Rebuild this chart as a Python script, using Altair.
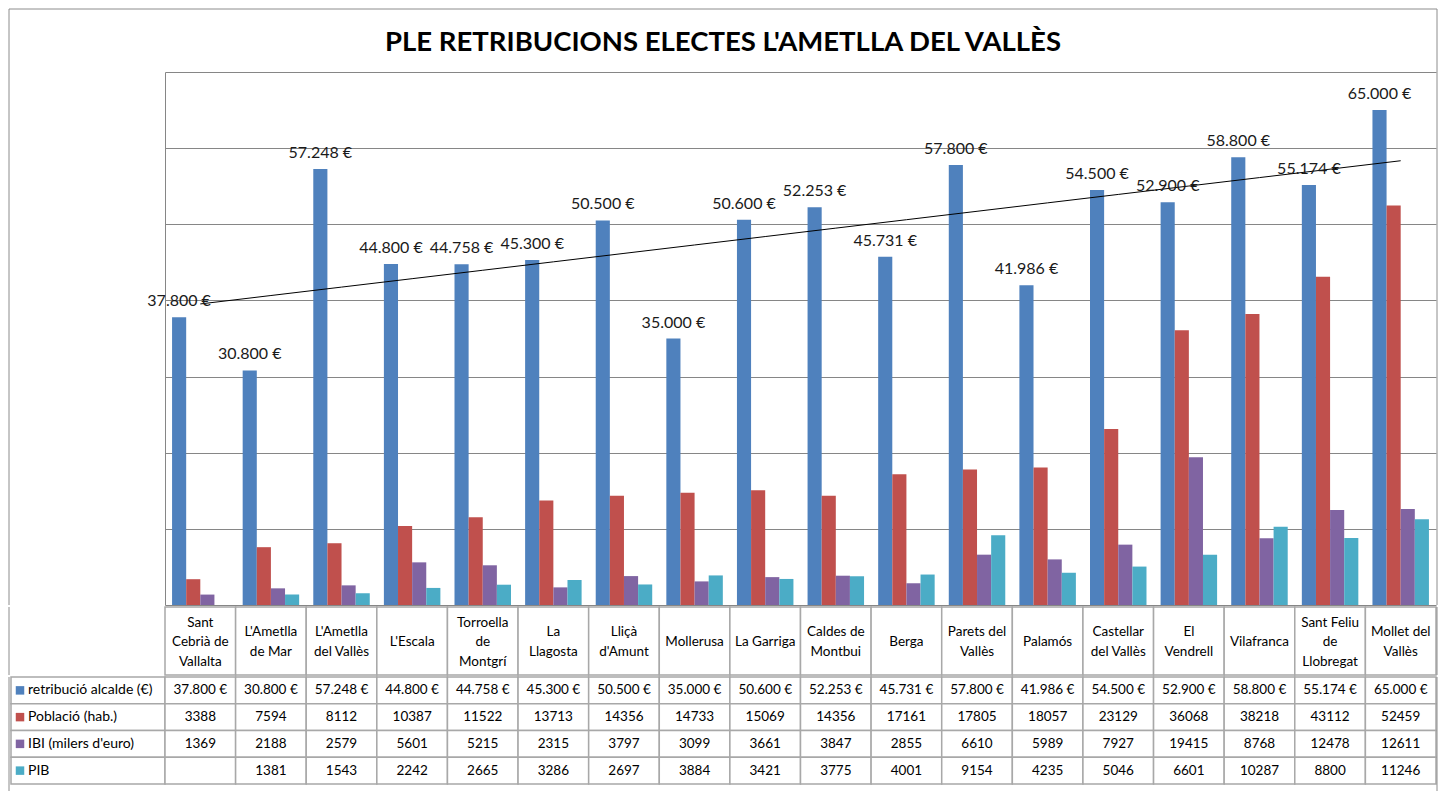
import altair as alt
import pandas as pd
import numpy as np

cities = ["Sant\nCebrià de\nVallalta", "L'Ametlla\nde Mar", "L'Ametlla\ndel Vallès", "L'Escala",
          "Torroella\nde\nMontgrí", "La\nLlagosta", "Lliçà\nd'Amunt", "Mollerusa", "La Garriga",
          "Caldes de\nMontbui", "Berga", "Parets del\nVallès", "Palamós", "Castellar\ndel Vallès",
          "El\nVendrell", "Vilafranca", "Sant Feliu\nde\nLlobregat", "Mollet del\nVallès"]
series_names = ["retribució alcalde (€)", "Població (hab.)", "IBI (milers d'euro)", "PIB"]
colors = ["#4F81BD", "#C0504D", "#8064A2", "#4BACC6"]
retribucio = [37800, 30800, 57248, 44800, 44758, 45300, 50500, 35000, 50600, 52253, 45731,
              57800, 41986, 54500, 52900, 58800, 55174, 65000]
poblacio = [3388, 7594, 8112, 10387, 11522, 13713, 14356, 14733, 15069, 14356, 17161,
            17805, 18057, 23129, 36068, 38218, 43112, 52459]
ibi = [1369, 2188, 2579, 5601, 5215, 2315, 3797, 3099, 3661, 3847, 2855,
       6610, 5989, 7927, 19415, 8768, 12478, 12611]
pib = [None, 1381, 1543, 2242, 2665, 3286, 2697, 3884, 3421, 3775, 4001,
       9154, 4235, 5046, 6601, 10287, 8800, 11246]
title_text = "PLE RETRIBUCIONS ELECTES L'AMETLLA DEL VALLÈS"


def fmt_eur(v):
    return f"{v:,}".replace(",", ".") + " €"


rows = []
for i, c in enumerate(cities):
    for s, vals in zip(series_names, [retribucio, poblacio, ibi, pib]):
        v = vals[i]
        if v is None:
            lab = ""
        elif s == series_names[0]:
            lab = fmt_eur(v)
        else:
            lab = str(v)
        rows.append({"city": c, "series": s, "value": v, "label": lab})
df = pd.DataFrame(rows)

idx = np.arange(1, len(cities) + 1)
slope, intercept = np.polyfit(idx, retribucio, 1)
trend_df = pd.DataFrame({"city": cities, "fit": slope * idx + intercept})

df_city = pd.DataFrame({"city": cities, "nlines": [c.count("\n") + 1 for c in cities]})
df_series = pd.DataFrame({"series": series_names})
df_one = pd.DataFrame({"k": [0]})

FONT = "Lato"
GRID = "#868686"
LINE = "#A8A8A8"
FRAME = "#8C8C8C"
W = 1271
TOP_H = 533
HDR_H = 68
TAB_H = 107
LH = 19.5
FL, FR, FT = -156, W + 1, -63   # outer chart frame (decoration)


def frame_lines(top, bottom, with_top=False):
    base = alt.Chart(df_one)
    parts = [
        base.mark_rule(color=FRAME, strokeWidth=1).encode(
            x=alt.value(FL), y=alt.value(top), y2=alt.value(bottom)),
        base.mark_rule(color=FRAME, strokeWidth=1).encode(
            x=alt.value(FR), y=alt.value(top), y2=alt.value(bottom)),
    ]
    if with_top:
        parts.append(base.mark_rule(color=FRAME, strokeWidth=1).encode(
            x=alt.value(FL), x2=alt.value(FR), y=alt.value(top)))
    return parts


x_bar = alt.X("city:N", sort=cities, axis=None,
              scale=alt.Scale(paddingInner=0.2, paddingOuter=0.1))
xoff = alt.XOffset("series:N", sort=series_names,
                   scale=alt.Scale(domain=series_names, paddingInner=0, paddingOuter=0))
y_bar = alt.Y("value:Q", scale=alt.Scale(domain=[0, 70000], nice=False),
              axis=alt.Axis(values=list(range(0, 70001, 10000)), labels=False, ticks=False,
                            title=None, domain=True, domainColor=GRID, gridColor=GRID,
                            grid=True, gridWidth=1))
color = alt.Color("series:N", scale=alt.Scale(domain=series_names, range=colors), legend=None)

bars = alt.Chart(df).mark_bar().encode(x=x_bar, xOffset=xoff, y=y_bar, color=color)
labels = alt.Chart(df[df["series"] == series_names[0]]).mark_text(
    font=FONT, fontSize=16, baseline="alphabetic", dy=-11, color="#1a1a1a"
).encode(x=x_bar, xOffset=xoff, y=alt.Y("value:Q"), text="label:N")
trend = alt.Chart(trend_df).mark_line(color="black", strokeWidth=1).encode(
    x=x_bar, y=alt.Y("fit:Q"))

top = alt.layer(bars, trend, labels, *frame_lines(FT, TOP_H, True)).properties(
    width=W, height=TOP_H)

x_tab = alt.X("city:N", sort=cities, axis=None, scale=alt.Scale(paddingInner=0, paddingOuter=0))

hdr_cells = alt.Chart(df_city).mark_rect(fill="white", stroke=LINE, strokeWidth=1.5).encode(
    x=x_tab, y=alt.value(0), y2=alt.value(HDR_H))
hdr_layers = [hdr_cells]
for n in (1, 2, 3):
    hdr_layers.append(
        alt.Chart(df_city).transform_filter(alt.datum.nlines == n).mark_text(
            font=FONT, fontSize=13.5, lineBreak="\n", lineHeight=LH, baseline="middle",
            color="black", dy=-(n - 1) * LH / 2
        ).encode(x=x_tab, y=alt.value(HDR_H / 2 + 1), text="city:N")
    )
header = alt.layer(*hdr_layers, *frame_lines(0, HDR_H)).properties(width=W, height=HDR_H)

y_tab = alt.Y("series:N", sort=series_names, axis=None,
              scale=alt.Scale(paddingInner=0, paddingOuter=0))
cells = alt.Chart(df).mark_rect(fill="white", stroke=LINE, strokeWidth=1.5).encode(
    x=x_tab, y=y_tab)
cell_text = alt.Chart(df).mark_text(font=FONT, fontSize=13.5, baseline="middle", color="black").encode(
    x=x_tab, y=y_tab, text="label:N")
lab_cells = alt.Chart(df_series).mark_rect(fill="white", stroke=LINE, strokeWidth=1.5).encode(
    x=alt.value(-154), x2=alt.value(0), y=y_tab)
squares = alt.Chart(df_series).mark_point(shape="square", filled=True, size=72, opacity=1).encode(
    x=alt.value(-145), y=y_tab, color=color)
lab_text = alt.Chart(df_series).mark_text(font=FONT, fontSize=14, align="left",
                                          baseline="middle", color="black").encode(
    x=alt.value(-137), y=y_tab, text="series:N")
table = alt.layer(lab_cells, cells, cell_text, squares, lab_text,
                  *frame_lines(0, TAB_H + 8)).properties(width=W, height=TAB_H)

chart = alt.vconcat(top, header, table, spacing=0).properties(
    title=alt.TitleParams(title_text, font=FONT, fontSize=27.5, fontWeight="bold",
                          anchor="middle", frame="bounds", offset=-48, color="black"),
    padding={"top": 0, "left": 0, "right": 0, "bottom": 0},
).configure_view(strokeWidth=0).configure_concat(spacing=0)

chart.save("out.html", embed_options={"renderer": "svg", "actions": False})
